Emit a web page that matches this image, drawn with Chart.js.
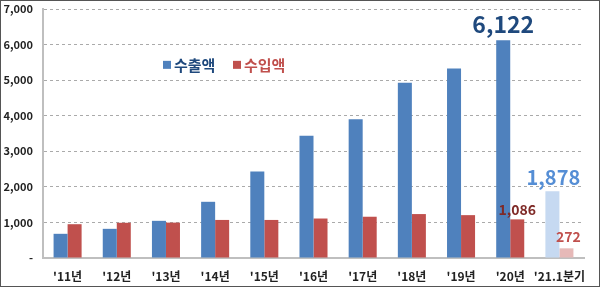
<!DOCTYPE html>
<html><head><meta charset="utf-8">
<script src="https://cdn.jsdelivr.net/npm/chart.js@4/dist/chart.umd.min.js"></script>
<style>
html,body{margin:0;padding:0;background:#fff;}
#wrap{position:relative;width:598px;height:285px;border:1px solid #555;}
</style></head>
<body><div id="wrap"><canvas id="c" width="598" height="285"></canvas></div>
<script>
const categories = ["'11년","'12년","'13년","'14년","'15년","'16년","'17년","'18년","'19년","'20년","'21.1분기"];
const exportValues = [680, 820, 1045, 1580, 2430, 3440, 3900, 4930, 5330, 6122, 1878];
const importValues = [950, 990, 995, 1070, 1070, 1110, 1160, 1235, 1205, 1086, 272];
const seriesNames = ["수출액", "수입액"];
const yTicks = [0, 1000, 2000, 3000, 4000, 5000, 6000, 7000];

const FONT = "'Noto Sans CJK KR', 'Noto Sans', sans-serif";
const blue = '#4F81BD', red = '#C0504D', lightBlue = '#C6D9F1', lightRed = '#E6B9B8';
const last = categories.length - 1;

const labelPlugin = {
  id: 'labels',
  afterDatasetsDraw(chart) {
    const ctx = chart.ctx;
    const m0 = chart.getDatasetMeta(0), m1 = chart.getDatasetMeta(1);
    const items = [
      {el: m0.data[9], text: exportValues[9].toLocaleString('en-US'), color: '#1F497D', size: 23, dy: -4},
      {el: m0.data[last], text: exportValues[last].toLocaleString('en-US'), color: '#558ED5', size: 20, dy: -4, dx: 1},
      {el: m1.data[9], text: importValues[9].toLocaleString('en-US'), color: '#7F2A27', size: 14, dy: -3, dx: 0},
      {el: m1.data[last], text: importValues[last].toLocaleString('en-US'), color: '#C0504D', size: 14, dy: -5, dx: 2},
    ];
    ctx.save();
    ctx.textAlign = 'center';
    ctx.textBaseline = 'bottom';
    items.forEach(it => {
      ctx.font = `bold ${it.size}px ${FONT}`;
      ctx.fillStyle = it.color;
      ctx.fillText(it.text, it.el.x + (it.dx || 0), it.el.y + it.dy);
    });
    // legend
    const ly = chart.scales.y.getPixelForValue(5430);
    ctx.textAlign = 'left';
    ctx.textBaseline = 'middle';
    ctx.font = `bold 15px ${FONT}`;
    const entries = [{x: 162, c: blue, t: '#1F497D', n: seriesNames[0]}, {x: 232, c: red, t: '#C0504D', n: seriesNames[1]}];
    entries.forEach(e => {
      ctx.fillStyle = e.c;
      ctx.fillRect(e.x, ly - 4, 8, 8);
      ctx.fillStyle = e.t;
      ctx.fillText(e.n, e.x + 11, ly);
    });
    ctx.restore();
  }
};

new Chart(document.getElementById('c'), {
  type: 'bar',
  data: {
    labels: categories,
    datasets: [
      {label: seriesNames[0], data: exportValues,
       backgroundColor: exportValues.map((v, i) => i === last ? lightBlue : blue),
       barPercentage: 1, categoryPercentage: 0.57},
      {label: seriesNames[1], data: importValues,
       backgroundColor: importValues.map((v, i) => i === last ? lightRed : red),
       barPercentage: 1, categoryPercentage: 0.57}
    ]
  },
  options: {
    responsive: false,
    animation: false,
    layout: {padding: {top: 1, right: 15, left: 0, bottom: 0}},
    plugins: {legend: {display: false}, tooltip: {enabled: false}},
    scales: {
      x: {
        afterFit: s => { s.height = 28; },
        grid: {display: false, drawTicks: false},
        border: {color: '#BFBFBF', width: 2},
        ticks: {color: '#222', font: {family: FONT, size: 12, weight: 'bold'}, padding: 11, maxRotation: 0, autoSkip: false}
      },
      y: {
        min: 0, max: 7000,
        afterBuildTicks: s => { s.ticks = yTicks.map(v => ({value: v})); },
        afterFit: s => { s.width = 42; s.paddingTop = 8; s.paddingBottom = 8; },
        grid: {color: '#AAAAAA', drawTicks: false, lineWidth: 1},
        border: {color: '#BFBFBF', width: 2, dash: [3, 3]},
        ticks: {color: '#222', font: {family: FONT, size: 11, weight: 'bold'}, padding: 10,
          callback: v => v === 0 ? '-' : v.toLocaleString('en-US')}
      }
    }
  },
  plugins: [labelPlugin]
});
</script></body></html>
